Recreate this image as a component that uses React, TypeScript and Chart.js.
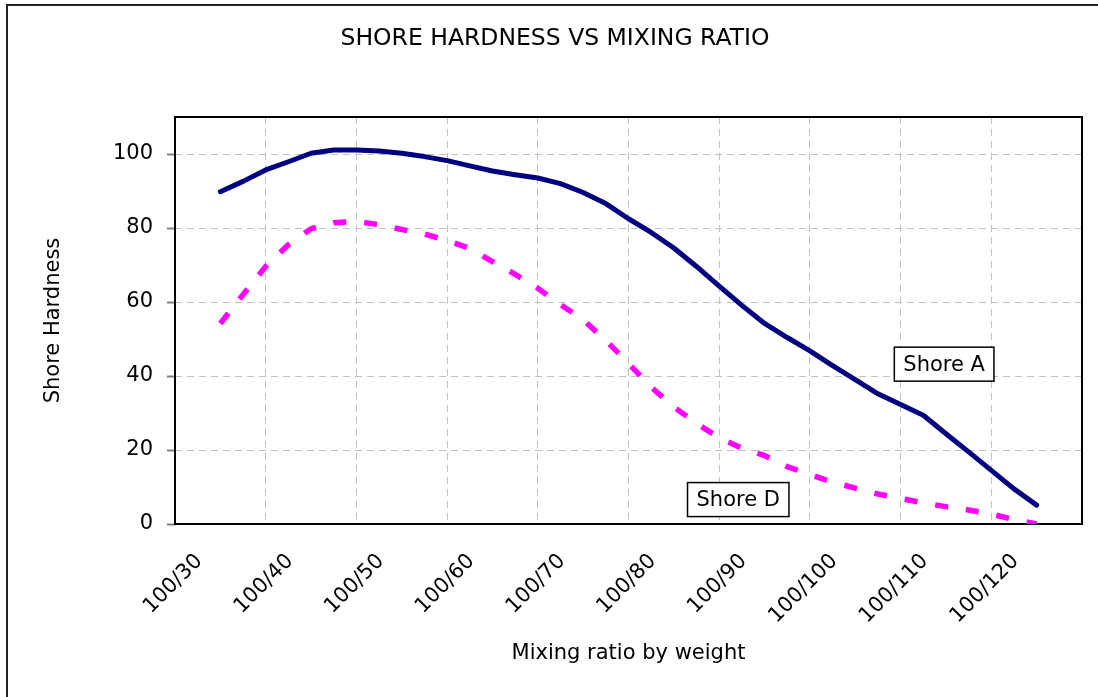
import React, { useEffect, useRef } from 'react';
import { Chart, registerables } from 'chart.js';

Chart.register(...registerables);

const chartTitle = 'SHORE HARDNESS VS MIXING RATIO';
const xAxisTitle = 'Mixing ratio by weight';
const yAxisTitle = 'Shore Hardness';

// mixing ratio (parts of hardener per 100 parts resin)
const xValues = [
  30, 32.5, 35, 37.5, 40, 42.5, 45, 47.5, 50, 52.5, 55, 57.5, 60, 62.5, 65, 67.5, 70, 72.5, 75,
  77.5, 80, 82.5, 85, 87.5, 90, 92.5, 95, 97.5, 100, 102.5, 105, 107.5, 110, 112.5, 115, 117.5, 120,
];
const shoreA = [
  89.8, 92.6, 95.7, 97.9, 100.2, 101.1, 101.1, 100.8, 100.2, 99.3, 98.2, 96.8, 95.4, 94.4, 93.5,
  92.0, 89.6, 86.6, 82.5, 78.8, 74.6, 69.6, 64.3, 59.1, 54.2, 50.4, 46.8, 42.8, 39.0, 35.2, 32.3,
  29.4, 24.4, 19.5, 14.5, 9.5, 5.1,
];
const shoreD = [
  54.2, 62.0, 69.6, 75.5, 79.8, 81.4, 81.8, 80.9, 79.6, 78.4, 76.6, 74.5, 70.9, 67.5, 63.7, 59.3,
  55.2, 49.6, 43.4, 37.0, 31.6, 27.2, 23.3, 20.5, 18.5, 15.5, 13.4, 11.3, 9.7, 8.1, 6.9, 5.7, 4.7,
  3.8, 2.7, 1.2, 0,
];
const seriesNames = ['Shore A', 'Shore D'];

const xTickValues = [30, 40, 50, 60, 70, 80, 90, 100, 110, 120];
const xTickLabels = ['100/30', '100/40', '100/50', '100/60', '100/70', '100/80', '100/90', '100/100', '100/110', '100/120'];
const xGridValues = [25, 35, 45, 55, 65, 75, 85, 95, 105, 115, 125];
const xMin = 25;
const xMax = 125;
const yTickValues = [0, 20, 40, 60, 80, 100];
const yMin = 0;
const yMax = 110;

// series label boxes, anchored in data units
const labelAnchors = [
  { text: 'Shore A', x: 109.8, y: 43.2 },
  { text: 'Shore D', x: 87.1, y: 6.6 },
];

const FONT = "'DejaVu Sans', 'Liberation Sans', Arial, sans-serif";

const decorPlugin = {
  id: 'decor',
  beforeDraw(chart: any) {
    const { ctx, width, height } = chart;
    ctx.save();
    ctx.fillStyle = '#ffffff';
    ctx.fillRect(0, 0, width, height);
    ctx.strokeStyle = '#222222';
    ctx.lineWidth = 2;
    ctx.beginPath();
    ctx.moveTo(7, height);
    ctx.lineTo(7, 5);
    ctx.lineTo(width, 5);
    ctx.stroke();
    ctx.fillStyle = '#000000';
    ctx.font = `23.5px ${FONT}`;
    ctx.textAlign = 'center';
    ctx.textBaseline = 'middle';
    ctx.fillText(chartTitle, 555, 39);
    ctx.restore();
  },
  beforeDatasetsDraw(chart: any) {
    const { ctx, chartArea } = chart;
    ctx.save();
    ctx.strokeStyle = '#000000';
    ctx.lineWidth = 2;
    ctx.strokeRect(chartArea.left, chartArea.top, chartArea.right - chartArea.left, chartArea.bottom - chartArea.top);
    ctx.restore();
  },
  afterDatasetsDraw(chart: any) {
    const { ctx, scales } = chart;
    ctx.save();
    ctx.font = `21px ${FONT}`;
    ctx.textAlign = 'center';
    ctx.textBaseline = 'middle';
    labelAnchors.forEach((a) => {
      const cx = scales.x.getPixelForValue(a.x);
      const cy = scales.y.getPixelForValue(a.y);
      const w = ctx.measureText(a.text).width + 18;
      const h = 34;
      ctx.fillStyle = '#ffffff';
      ctx.fillRect(cx - w / 2, cy - h / 2, w, h);
      ctx.strokeStyle = '#000000';
      ctx.lineWidth = 1.5;
      ctx.strokeRect(cx - w / 2, cy - h / 2, w, h);
      ctx.fillStyle = '#000000';
      ctx.fillText(a.text, cx, cy + 1);
    });
    ctx.restore();
  },
};

export default function App() {
  const canvasRef = useRef<HTMLCanvasElement | null>(null);

  useEffect(() => {
    if (!canvasRef.current) return;
    Chart.defaults.font.family = FONT;
    Chart.defaults.color = '#000000';
    const chart = new Chart(canvasRef.current, {
      type: 'line',
      data: {
        datasets: [
          {
            label: seriesNames[0],
            data: xValues.map((x, i) => ({ x, y: shoreA[i] })),
            borderColor: '#000080',
            borderWidth: 5,
            pointRadius: 0,
            tension: 0,
            borderCapStyle: 'round',
            borderJoinStyle: 'round',
            fill: false,
          },
          {
            label: seriesNames[1],
            data: xValues.map((x, i) => ({ x, y: shoreD[i] })),
            borderColor: '#ff00ff',
            borderWidth: 5.5,
            borderDash: [13, 18],
            pointRadius: 0,
            tension: 0,
            borderCapStyle: 'butt',
            borderJoinStyle: 'miter',
            fill: false,
          },
        ],
      },
      options: {
        animation: false,
        responsive: false,
        layout: { padding: { top: 117, right: 16, left: 0, bottom: 0 } },
        plugins: {
          legend: { display: false },
          title: { display: false },
          tooltip: { enabled: false },
        },
        scales: {
          x: {
            type: 'linear',
            min: xMin,
            max: xMax,
            afterFit: (scale: any) => {
              scale.height = 173;
              scale.paddingLeft = 0;
              scale.paddingRight = 0;
            },
            afterBuildTicks: (scale: any) => {
              const vals = [...xGridValues, ...xTickValues].sort((a, b) => a - b);
              scale.ticks = vals.map((v) => ({ value: v }));
            },
            ticks: {
              autoSkip: false,
              minRotation: 45,
              maxRotation: 45,
              padding: 25,
              labelOffset: -21,
              font: { size: 21 },
              color: '#000000',
              callback: (value: any) => {
                const idx = xTickValues.indexOf(Number(value));
                return idx >= 0 ? xTickLabels[idx] : '';
              },
            },
            grid: {
              color: (ctx: any) =>
                ctx.tick && xGridValues.includes(ctx.tick.value) ? '#c0c0c0' : 'rgba(0,0,0,0)',
              lineWidth: 1,
              drawTicks: false,
            },
            border: { display: false, dash: [7, 5] },
            title: {
              display: true,
              text: xAxisTitle,
              font: { size: 21 },
              color: '#000000',
              padding: { top: 0, bottom: 31 },
            },
          },
          y: {
            type: 'linear',
            min: yMin,
            max: yMax,
            afterFit: (scale: any) => {
              scale.width = 175;
            },
            afterBuildTicks: (scale: any) => {
              scale.ticks = yTickValues.map((v) => ({ value: v }));
            },
            ticks: {
              padding: 14,
              font: { size: 21 },
              color: '#000000',
            },
            grid: {
              color: '#c0c0c0',
              lineWidth: 1,
              drawTicks: true,
              tickLength: 8,
              tickColor: '#808080',
              tickWidth: 2,
              tickBorderDash: [],
            },
            border: { display: false, dash: [7, 5] },
            title: {
              display: true,
              text: yAxisTitle,
              font: { size: 21 },
              color: '#000000',
              padding: { top: 41, bottom: 0 },
            },
          },
        },
      },
      plugins: [decorPlugin],
    } as any);
    return () => chart.destroy();
  }, []);

  return (
    <div style={{ position: 'fixed', left: 0, top: 0, width: 1098, height: 697, background: '#ffffff' }}>
      <canvas ref={canvasRef} width={1098} height={697} style={{ display: 'block', width: 1098, height: 697 }} />
    </div>
  );
}
